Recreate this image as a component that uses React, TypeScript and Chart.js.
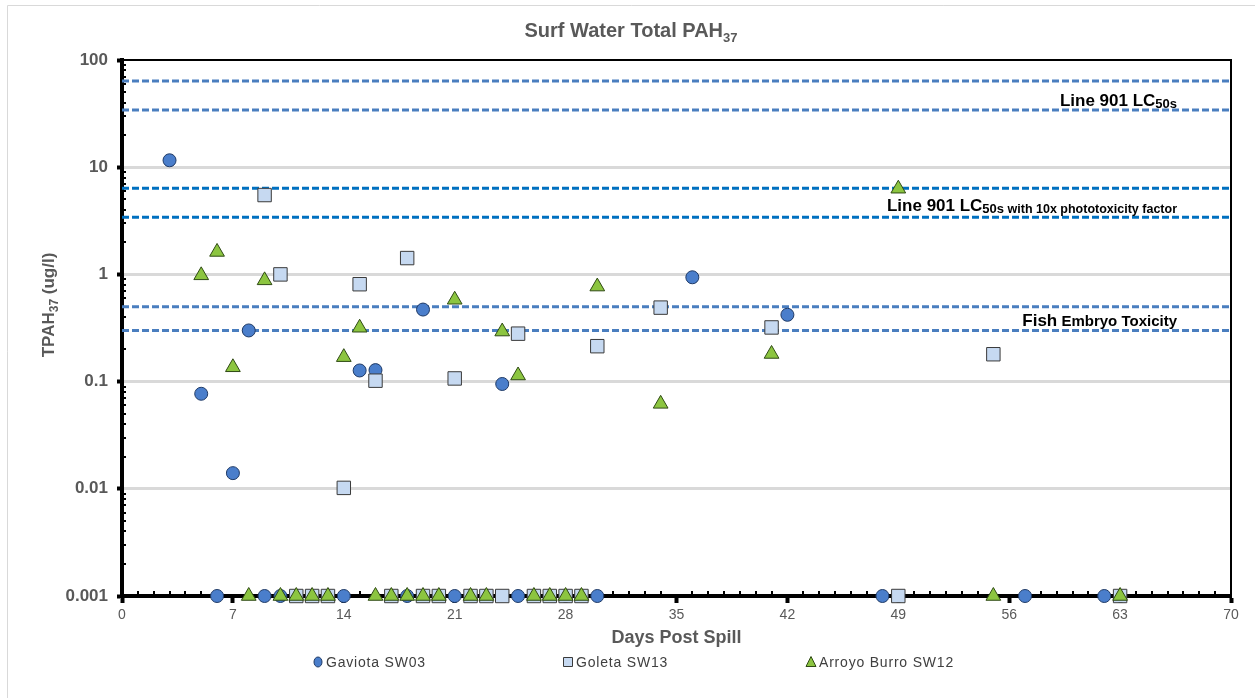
import React, { useEffect, useRef } from 'react';
import { Chart, registerables } from 'chart.js';

Chart.register(...registerables);

// ---------- DATA ----------
const gaviotaDays = [3, 5, 6, 7, 8, 9, 10, 14, 15, 16, 18, 19, 21, 24, 25, 30, 36, 42, 48, 57, 62];
const gaviotaValues = [11.6, 0.077, 0.001, 0.014, 0.3, 0.001, 0.001, 0.001, 0.127, 0.128, 0.001, 0.47, 0.001, 0.095, 0.001, 0.001, 0.94, 0.42, 0.001, 0.001, 0.001];

const goletaDays = [9, 10, 11, 12, 13, 14, 15, 16, 17, 18, 19, 20, 21, 22, 23, 24, 25, 26, 27, 28, 29, 30, 34, 41, 49, 55, 63];
const goletaValues = [5.5, 1.0, 0.001, 0.001, 0.001, 0.0102, 0.81, 0.102, 0.001, 1.42, 0.001, 0.001, 0.107, 0.001, 0.001, 0.001, 0.28, 0.001, 0.001, 0.001, 0.001, 0.214, 0.49, 0.32, 0.001, 0.18, 0.001];

const arroyoDays = [5, 6, 7, 8, 9, 10, 11, 12, 13, 14, 15, 16, 17, 18, 19, 20, 21, 22, 23, 24, 25, 26, 27, 28, 29, 30, 34, 41, 49, 55, 63];
const arroyoValues = [0.98, 1.62, 0.136, 0.001, 0.88, 0.001, 0.001, 0.001, 0.001, 0.169, 0.318, 0.001, 0.001, 0.001, 0.001, 0.001, 0.58, 0.001, 0.001, 0.293, 0.114, 0.001, 0.001, 0.001, 0.001, 0.77, 0.062, 0.181, 6.3, 0.001, 0.001];

const seriesNames = ['Gaviota SW03', 'Goleta SW13', 'Arroyo Burro SW12'];

const lc50Values = [63.6, 34.1];
const phototoxValues = [6.36, 3.41];
const fishEmbryoValues = [0.5, 0.3];

const yTickValues = [0.001, 0.01, 0.1, 1, 10, 100];
const xMin = 0;
const xMax = 70;
const xStep = 7;

// ---------- STYLE ----------
const FONT = '"Liberation Sans", Arial, sans-serif';
const GRAY_TEXT = '#595959';
const circleFill = '#4a7ecb';
const circleBorder = '#1f3a66';
const squareFill = '#c6d9f1';
const squareBorder = '#3a3a3a';
const triFill = '#8cc540';
const triBorder = '#2f4a14';
const lightDash = '#4a7ebf';
const darkDash = '#0070c0';

const toPoints = (days: number[], vals: number[]) => days.map((d, i) => ({ x: d, y: vals[i] }));

type Run = { text: string; font: string; dy?: number };

function drawRuns(ctx: CanvasRenderingContext2D, runs: Run[], x: number, baseline: number, align: 'left' | 'right' | 'center') {
  ctx.textAlign = 'left';
  ctx.textBaseline = 'alphabetic';
  const widths = runs.map((r) => {
    ctx.font = r.font;
    return ctx.measureText(r.text).width;
  });
  const total = widths.reduce((a, b) => a + b, 0);
  let cx = align === 'right' ? x - total : align === 'center' ? x - total / 2 : x;
  runs.forEach((r, i) => {
    ctx.font = r.font;
    ctx.fillText(r.text, cx, baseline + (r.dy || 0));
    cx += widths[i];
  });
}

const customPlugin = {
  id: 'customDecor',
  beforeDatasetsDraw(chart: any) {
    const { ctx, chartArea: a, scales } = chart;
    const x = scales.x;
    const y = scales.y;
    ctx.save();
    // top and right frame
    ctx.strokeStyle = '#000';
    ctx.lineWidth = 2;
    ctx.beginPath();
    ctx.moveTo(a.left, a.top);
    ctx.lineTo(a.right, a.top);
    ctx.lineTo(a.right, a.bottom);
    ctx.stroke();
    // minor x ticks
    ctx.lineWidth = 2;
    ctx.beginPath();
    for (let d = xMin + 1; d < xMax; d++) {
      if (d % xStep === 0) continue;
      const px = Math.round(x.getPixelForValue(d));
      ctx.moveTo(px, a.bottom - 5);
      ctx.lineTo(px, a.bottom);
    }
    ctx.stroke();
    // minor y ticks
    ctx.lineWidth = 2;
    ctx.beginPath();
    for (let k = 0; k < yTickValues.length - 1; k++) {
      for (let m = 2; m <= 9; m++) {
        const v = yTickValues[k] * m;
        const py = Math.round(y.getPixelForValue(v));
        ctx.moveTo(a.left, py);
        ctx.lineTo(a.left + 4, py);
      }
    }
    ctx.stroke();
    ctx.restore();
  },
  afterDatasetsDraw(chart: any) {
    const { ctx, chartArea: a, scales } = chart;
    const y = scales.y;
    const right = a.right - 54;
    ctx.save();
    ctx.fillStyle = '#000';
    drawRuns(
      ctx,
      [
        { text: 'Line 901 LC', font: `bold 17px ${FONT}` },
        { text: '50s', font: `bold 13px ${FONT}`, dy: 2 },
      ],
      right,
      y.getPixelForValue(lc50Values[1]) - 4,
      'right'
    );
    drawRuns(
      ctx,
      [
        { text: 'Line 901 LC', font: `bold 17px ${FONT}` },
        { text: '50s', font: `bold 13px ${FONT}`, dy: 2 },
        { text: ' with 10x phototoxicity factor', font: `bold 12.5px ${FONT}`, dy: 2 },
      ],
      right,
      y.getPixelForValue(phototoxValues[1]) - 6,
      'right'
    );
    drawRuns(
      ctx,
      [
        { text: 'Fish', font: `bold 17px ${FONT}` },
        { text: ' Embryo Toxicity', font: `bold 15px ${FONT}` },
      ],
      right,
      y.getPixelForValue(fishEmbryoValues[1]) - 4,
      'right'
    );
    ctx.restore();
  },
  afterDraw(chart: any) {
    const { ctx, chartArea: a, width } = chart;
    ctx.save();
    // outer frame (top/left)
    ctx.strokeStyle = '#d9d9d9';
    ctx.lineWidth = 1;
    ctx.beginPath();
    ctx.moveTo(7.5, chart.height);
    ctx.lineTo(7.5, 5.5);
    ctx.lineTo(width, 5.5);
    ctx.stroke();

    // title
    ctx.fillStyle = GRAY_TEXT;
    drawRuns(
      ctx,
      [
        { text: 'Surf Water Total PAH', font: `bold 20px ${FONT}` },
        { text: '37', font: `bold 13px ${FONT}`, dy: 5 },
      ],
      631,
      37,
      'center'
    );

    // x axis title
    drawRuns(ctx, [{ text: 'Days Post Spill', font: `bold 18px ${FONT}` }], (a.left + a.right) / 2, 643, 'center');

    // y axis title
    ctx.save();
    ctx.translate(54, 305);
    ctx.rotate(-Math.PI / 2);
    drawRuns(
      ctx,
      [
        { text: 'TPAH', font: `bold 17px ${FONT}` },
        { text: '37', font: `bold 12px ${FONT}`, dy: 4 },
        { text: ' (ug/l)', font: `bold 17px ${FONT}` },
      ],
      0,
      0,
      'center'
    );
    ctx.restore();

    // legend
    const ly = 662;
    const items = [
      { x: 318, name: seriesNames[0], shape: 'circle' },
      { x: 568, name: seriesNames[1], shape: 'square' },
      { x: 811, name: seriesNames[2], shape: 'triangle' },
    ];
    items.forEach((it) => {
      ctx.lineWidth = 1;
      ctx.beginPath();
      if (it.shape === 'circle') {
        ctx.fillStyle = circleFill;
        ctx.strokeStyle = circleBorder;
        ctx.ellipse(it.x, ly, 4, 5, 0, 0, Math.PI * 2);
      } else if (it.shape === 'square') {
        ctx.fillStyle = squareFill;
        ctx.strokeStyle = squareBorder;
        ctx.rect(it.x - 4.5, ly - 4.5, 9, 9);
      } else {
        ctx.fillStyle = triFill;
        ctx.strokeStyle = triBorder;
        ctx.moveTo(it.x, ly - 5.5);
        ctx.lineTo(it.x + 5, ly + 4.5);
        ctx.lineTo(it.x - 5, ly + 4.5);
        ctx.closePath();
      }
      ctx.fill();
      ctx.stroke();
      ctx.fillStyle = '#404040';
      (ctx as any).letterSpacing = '0.8px';
      drawRuns(ctx, [{ text: it.name, font: `14px ${FONT}` }], it.x + 8, ly + 5, 'left');
      (ctx as any).letterSpacing = '0px';
    });
    ctx.restore();
  },
};

export default function App() {
  const canvasRef = useRef<HTMLCanvasElement | null>(null);

  useEffect(() => {
    if (!canvasRef.current) return;
    Chart.defaults.font.family = FONT;

    const dashLine = (v: number, color: string) => ({
      type: 'line' as const,
      label: '',
      data: [
        { x: xMin, y: v },
        { x: xMax, y: v },
      ],
      borderColor: color,
      borderWidth: 3,
      borderDash: [7, 3],
      pointRadius: 0,
      fill: false,
      showLine: true,
      order: 10,
    });

    const chart = new Chart(canvasRef.current, {
      type: 'scatter',
      data: {
        datasets: [
          {
            label: seriesNames[0],
            data: toPoints(gaviotaDays, gaviotaValues),
            pointStyle: 'circle',
            pointRadius: 6.5,
            backgroundColor: circleFill,
            borderColor: circleBorder,
            borderWidth: 1,
            clip: false,
            order: 3,
          },
          {
            label: seriesNames[1],
            data: toPoints(goletaDays, goletaValues),
            pointStyle: 'rect',
            pointRadius: 9.5,
            backgroundColor: squareFill,
            borderColor: squareBorder,
            borderWidth: 1,
            clip: false,
            order: 2,
          },
          {
            label: seriesNames[2],
            data: toPoints(arroyoDays, arroyoValues),
            pointStyle: 'triangle',
            pointRadius: 8.5,
            backgroundColor: triFill,
            borderColor: triBorder,
            borderWidth: 1,
            clip: false,
            order: 1,
          },
          dashLine(lc50Values[0], lightDash),
          dashLine(lc50Values[1], lightDash),
          dashLine(phototoxValues[0], darkDash),
          dashLine(phototoxValues[1], darkDash),
          dashLine(fishEmbryoValues[0], lightDash),
          dashLine(fishEmbryoValues[1], lightDash),
        ] as any,
      },
      options: {
        animation: false,
        responsive: true,
        maintainAspectRatio: false,
        events: [],
        layout: { padding: { top: 60, right: 24, bottom: 0, left: 0 } },
        plugins: {
          legend: { display: false },
          title: { display: false },
          tooltip: { enabled: false },
        },
        scales: {
          x: {
            type: 'linear',
            min: xMin,
            max: xMax,
            afterFit: (s: any) => {
              s.height = 102;
            },
            ticks: {
              stepSize: xStep,
              autoSkip: false,
              maxRotation: 0,
              padding: 4,
              color: GRAY_TEXT,
              font: { size: 14, family: FONT },
            },
            grid: {
              drawOnChartArea: false,
              drawTicks: true,
              tickLength: 7,
              tickWidth: 4,
              tickColor: '#000',
              color: '#000',
            },
            border: { display: true, color: '#000', width: 4 },
          },
          y: {
            type: 'logarithmic',
            min: 0.001,
            max: 100,
            afterFit: (s: any) => {
              s.width = 122;
            },
            afterBuildTicks: (s: any) => {
              s.ticks = yTickValues.map((v) => ({ value: v }));
            },
            ticks: {
              autoSkip: false,
              padding: 9,
              color: GRAY_TEXT,
              font: { size: 17, weight: 'bold', family: FONT },
              callback: (v: any) => String(Number(v)),
            },
            grid: {
              drawTicks: true,
              tickLength: 5,
              tickWidth: 4,
              tickColor: '#000',
              lineWidth: 3,
              color: (c: any) =>
                c.tick && (c.tick.value === yTickValues[0] || c.tick.value === yTickValues[yTickValues.length - 1])
                  ? 'rgba(0,0,0,0)'
                  : '#d9d9d9',
            },
            border: { display: true, color: '#000', width: 4 },
          },
        },
      },
      plugins: [customPlugin],
    } as any);

    return () => chart.destroy();
  }, []);

  return (
    <div style={{ position: 'absolute', left: 0, top: 0, width: 1255, height: 698, background: '#fff' }}>
      <canvas ref={canvasRef} />
    </div>
  );
}
